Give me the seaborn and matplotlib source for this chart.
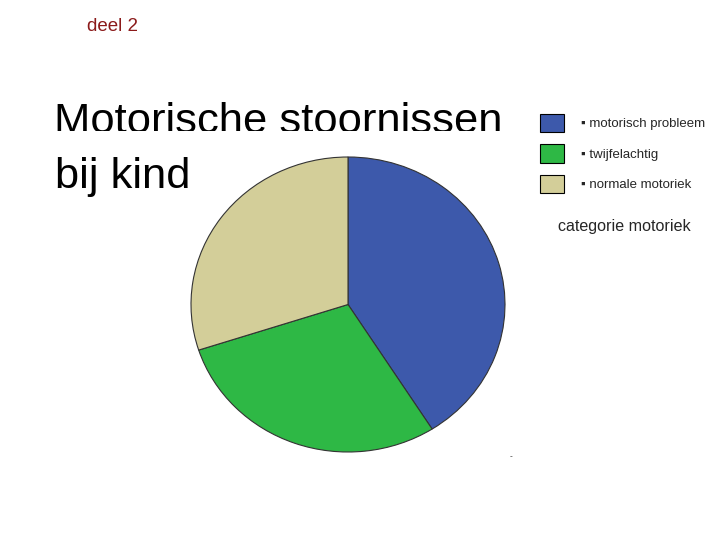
import matplotlib
matplotlib.use("Agg")
import matplotlib.pyplot as plt
from matplotlib.patches import Rectangle
import seaborn as sns

# --- data ---
categories = ["motorisch probleem", "twijfelachtig", "normale motoriek"]
shares = [41, 29, 30]
colors = ["#3d59ab", "#2eb845", "#d3ce99"]

sns.set_theme(style="white")
plt.rcParams["font.family"] = ["Liberation Sans", "DejaVu Sans"]

fig = plt.figure(figsize=(7.2, 5.4), dpi=100)
fig.patch.set_facecolor("white")

# pie axes placed to match the reference
ax = fig.add_axes([191 / 720, 1 - 452 / 540, 314 / 720, 295 / 540])
wedges, _ = ax.pie(shares, colors=colors, startangle=90, counterclock=False,
                   wedgeprops=dict(edgecolor="#333333", linewidth=0.8))
ax.set_aspect("auto")
ax.set_xlim(-1, 1)
ax.set_ylim(-1, 1)
ax.axis("off")

# titles
fig.text(87 / 720, 1 - 31 / 540, "deel 2", color="#8b1a1a", fontsize=13.5)
fig.text(54 / 720, 1 - 133 / 540, "Motorische stoornissen", color="black", fontsize=31.3)
fig.text(55 / 720, 1 - 188 / 540, "bij kind", color="black", fontsize=31.3)
# the first title line is cut off at the bottom in the reference
fig.patches.append(Rectangle((50 / 720, 1 - 145 / 540), 470 / 720, 14 / 540,
                             transform=fig.transFigure, facecolor="white",
                             edgecolor="none", zorder=5))

# legend
leg = fig.legend(wedges, ["\u25aa " + c for c in categories],
                 loc="upper left", bbox_to_anchor=(529 / 720, 1 - 103 / 540),
                 frameon=False, fontsize=9.5, handlelength=1.85, handleheight=1.75,
                 labelspacing=0.95, handletextpad=1.3, borderpad=0.3)
for h in leg.legend_handles:
    h.set_edgecolor("black")
    h.set_linewidth(0.8)
fig.text(558 / 720, 1 - 231 / 540, "categorie motoriek", fontsize=11.6)

fig.text(510 / 720, 1 - 458 / 540, "-", fontsize=6)

fig.savefig("out.png", dpi=100, facecolor="white")
